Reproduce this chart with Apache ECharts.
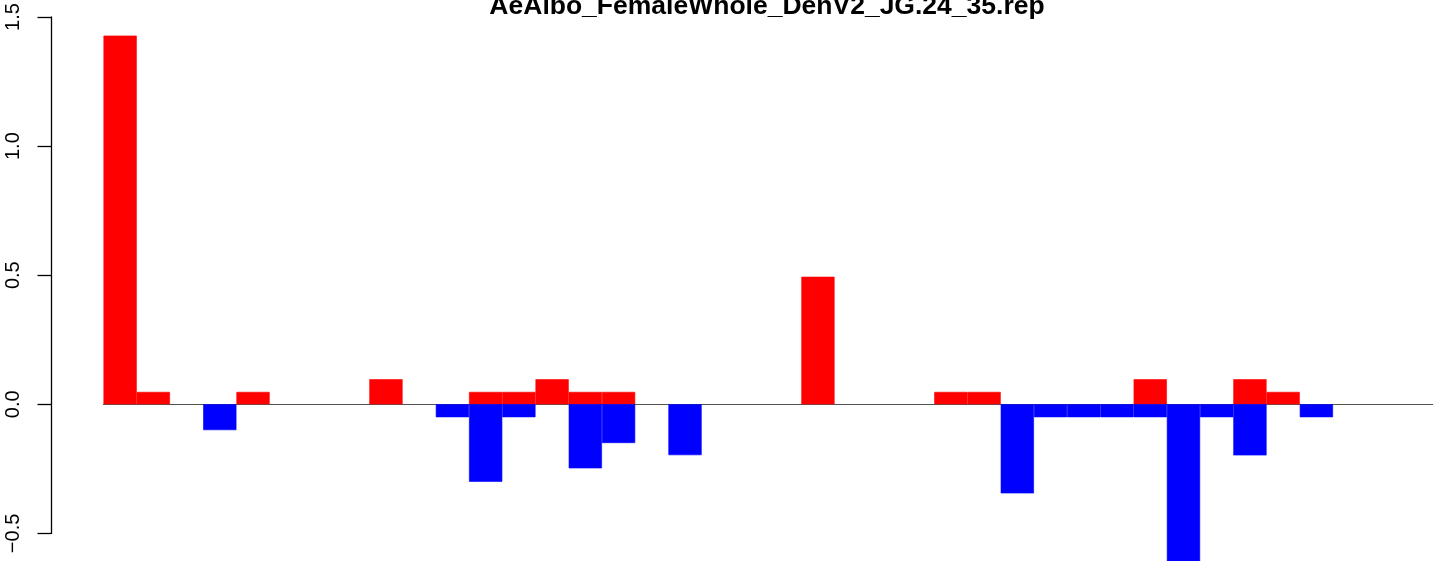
<!DOCTYPE html>
<html>
<head>
<meta charset="utf-8">
<script src="https://cdn.jsdelivr.net/npm/echarts@6/dist/echarts.min.js"></script>
<style>
  html, body { margin: 0; padding: 0; background: #ffffff; }
  #chart { width: 1444px; height: 561px; }
</style>
</head>
<body>
<div id="chart"></div>
<script>
// ---- data ----
const chartTitle = "AeAlbo_FemaleWhole_DenV2_JG.24_35.rep";
const categories = Array.from({length: 40}, (_, i) => String(i + 1));
// positive (red) values per category, null = no bar
const positiveValues = [
  1.428, 0.048, null, null, 0.048, null, null, null, 0.097, null,
  null, 0.048, 0.048, 0.097, 0.048, 0.048, null, null, null, null,
  null, 0.494, null, null, null, 0.048, 0.048, null, null, null,
  null, 0.097, null, null, 0.097, 0.048, null, null, null, null
];
// negative (blue) values per category
const negativeValues = [
  null, null, null, -0.1, null, null, null, null, null, null,
  -0.05, -0.3, -0.05, null, -0.248, -0.15, null, -0.197, null, null,
  null, null, null, null, null, null, null, -0.345, -0.05, -0.05,
  -0.05, -0.05, -0.61, -0.05, -0.198, null, -0.05, null, null, null
];
const yTicks = [-0.5, 0.0, 0.5, 1.0, 1.5];

const FONT = "'Liberation Sans', Arial, Helvetica, sans-serif";
const chart = echarts.init(document.getElementById('chart'), null, {renderer: 'canvas'});
const option = {
  backgroundColor: '#ffffff',
  animation: false,
  title: {
    text: chartTitle,
    left: 762,
    top: -12,
    textAlign: 'center',
    textStyle: { fontFamily: FONT, fontWeight: 'bold', fontSize: 26.5, color: '#000000' }
  },
  grid: { left: 103.5, right: 11.3, top: 17, bottom: 27.6, containLabel: false },
  xAxis: {
    type: 'category',
    data: categories,
    boundaryGap: true,
    axisLine: { show: true, onZero: true, lineStyle: { color: '#555555', width: 1.2 } },
    axisTick: { show: false },
    axisLabel: { show: false },
    splitLine: { show: false },
    z: 1
  },
  yAxis: {
    type: 'value',
    min: yTicks[0],
    max: yTicks[yTicks.length - 1],
    interval: 0.5,
    offset: 52.5,
    axisLine: { show: true, lineStyle: { color: '#000000', width: 1.3 } },
    axisTick: { show: true, length: 13.5, lineStyle: { color: '#000000', width: 1.3 } },
    splitLine: { show: false },
    axisLabel: {
      rotate: 90,
      margin: 28,
      fontFamily: FONT,
      fontSize: 20,
      color: '#000000',
      formatter: v => (v < 0 ? '\u2212' : '') + Math.abs(v).toFixed(1)
    }
  },
  series: [
    {
      type: 'bar', data: positiveValues, barWidth: '100%', barGap: '-100%',
      itemStyle: { color: '#ff0000', borderColor: '#ff0000', borderWidth: 0.6 }, clip: false, z: 3
    },
    {
      type: 'bar', data: negativeValues, barWidth: '100%', barGap: '-100%',
      itemStyle: { color: '#0000ff', borderColor: '#0000ff', borderWidth: 0.6 }, clip: false, z: 3
    }
  ]
};
chart.setOption(option);
</script>
</body>
</html>
